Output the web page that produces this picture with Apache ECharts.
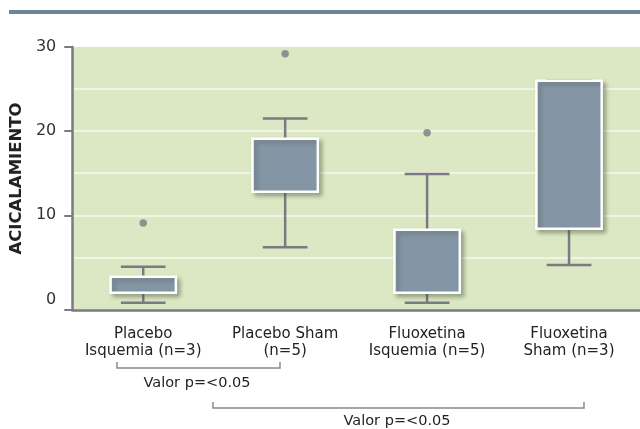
<!DOCTYPE html>
<html>
<head>
<meta charset="utf-8">
<script src="https://cdn.jsdelivr.net/npm/echarts@6/dist/echarts.min.js"></script>
<style>
  html, body { margin: 0; padding: 0; background: #fff; }
  #main { width: 640px; height: 429px; }
</style>
</head>
<body>
<div id="main"></div>
<script>
var categories = ['Placebo\nIsquemia (n=3)', 'Placebo Sham\n(n=5)', 'Fluoxetina\nIsquemia (n=5)', 'Fluoxetina\nSham (n=3)'];
var whiskerLow  = [-0.4, 6.2, -0.4, 4.1];
var boxLow      = [0.8, 12.8, 0.8, 8.4];
var boxHigh     = [2.7, 19.1, 8.3, 26.0];
var whiskerHigh = [3.9, 21.5, 14.9, 26.0];
var outliers    = [9.1, 29.2, 19.8, null];
var yLabels     = [0, 10, 20, 30];
var gridValues  = [5, 10, 15, 20, 25];

var axisGray = '#7b7a80';
var font = 'DejaVu Sans';

var boxData = categories.map(function (c, i) {
    return [i, whiskerLow[i], boxLow[i], boxHigh[i], whiskerHigh[i]];
});
var outlierData = [];
outliers.forEach(function (v, i) {
    if (v !== null) outlierData.push([i, v]);
});

function renderBox(params, api) {
    var i = api.value(0);
    var x = api.coord([i, 0])[0];
    var band = api.size([1, 0])[0];
    var bw = band * 0.46;
    var cw = band * 0.315;
    var yWl = api.coord([i, api.value(1)])[1];
    var yBl = api.coord([i, api.value(2)])[1];
    var yBh = api.coord([i, api.value(3)])[1];
    var yWh = api.coord([i, api.value(4)])[1];
    var ls = { stroke: axisGray, lineWidth: 2.5 };
    return {
        type: 'group',
        children: [
            { type: 'line', shape: { x1: x, y1: yWl, x2: x, y2: yBl }, style: ls },
            { type: 'line', shape: { x1: x, y1: yBh, x2: x, y2: yWh }, style: ls },
            { type: 'line', shape: { x1: x - cw / 2, y1: yWl, x2: x + cw / 2, y2: yWl }, style: ls },
            { type: 'line', shape: { x1: x - cw / 2, y1: yWh, x2: x + cw / 2, y2: yWh }, style: ls },
            {
                type: 'rect',
                shape: { x: x - bw / 2, y: yBh, width: bw, height: yBl - yBh },
                style: {
                    fill: '#8496a6',
                    stroke: '#ffffff',
                    lineWidth: 2.5,
                    shadowColor: 'rgba(70,80,60,0.4)',
                    shadowBlur: 4,
                    shadowOffsetX: 3,
                    shadowOffsetY: 3
                }
            }
        ]
    };
}

var chart = echarts.init(document.getElementById('main'));
var option = {
    animation: false,
    grid: {
        left: 72, top: 47, width: 572, height: 263,
        show: true, backgroundColor: '#dbe8c3', borderWidth: 0
    },
    xAxis: {
        type: 'category',
        data: categories,
        z: 6,
        axisLine: { onZero: false, lineStyle: { color: axisGray, width: 2.5 } },
        axisTick: { length: 5, lineStyle: { color: axisGray, width: 2 } },
        axisLabel: {
            interval: 0, margin: 16, color: '#222', fontSize: 15,
            fontFamily: font, lineHeight: 17
        },
        splitLine: { show: false }
    },
    yAxis: {
        type: 'value',
        min: -1.25,
        max: 30,
        z: 6,
        name: 'ACICALAMIENTO',
        nameLocation: 'middle',
        nameGap: 45,
        nameTextStyle: { fontFamily: font, fontWeight: 'bold', fontSize: 16.5, color: '#222' },
        axisLine: { show: true, lineStyle: { color: axisGray, width: 2.5 } },
        axisTick: { show: true, length: 8, customValues: [-1.25].concat(yLabels.slice(1)), lineStyle: { color: axisGray, width: 2 } },
        axisLabel: { customValues: yLabels, margin: 16, color: '#333', fontSize: 16, fontFamily: font },
        splitLine: { show: false }
    },
    series: [
        {
            type: 'line',
            data: [null, null, null, null],
            z: 1,
            silent: true,
            markLine: {
                z: 1,
                silent: true,
                symbol: 'none',
                label: { show: false },
                lineStyle: { color: '#f6f9f0', width: 1.5, type: 'solid' },
                data: gridValues.map(function (v) { return { yAxis: v }; })
            }
        },
        {
            type: 'custom',
            renderItem: renderBox,
            data: boxData,
            encode: { x: 0, y: [1, 2, 3, 4] },
            z: 3
        },
        {
            type: 'scatter',
            data: outlierData,
            symbolSize: 7.5,
            itemStyle: { color: axisGray },
            z: 4
        }
    ],
    graphic: [
        { type: 'rect', shape: { x: 9, y: 10, width: 640, height: 4 }, style: { fill: '#6f8596' } },
        { type: 'polyline', shape: { points: [[117, 362], [117, 368], [280, 368], [280, 362]] }, style: { stroke: '#8a8a8a', lineWidth: 1.5, fill: null } },
        { type: 'text', x: 197, y: 383, style: { text: 'Valor p=<0.05', font: '14.5px "DejaVu Sans"', fill: '#222', align: 'center', verticalAlign: 'middle' } },
        { type: 'polyline', shape: { points: [[213, 402], [213, 408], [584, 408], [584, 402]] }, style: { stroke: '#8a8a8a', lineWidth: 1.5, fill: null } },
        { type: 'text', x: 397, y: 421, style: { text: 'Valor p=<0.05', font: '14.5px "DejaVu Sans"', fill: '#222', align: 'center', verticalAlign: 'middle' } }
    ]
};
chart.setOption(option);
</script>
</body>
</html>
